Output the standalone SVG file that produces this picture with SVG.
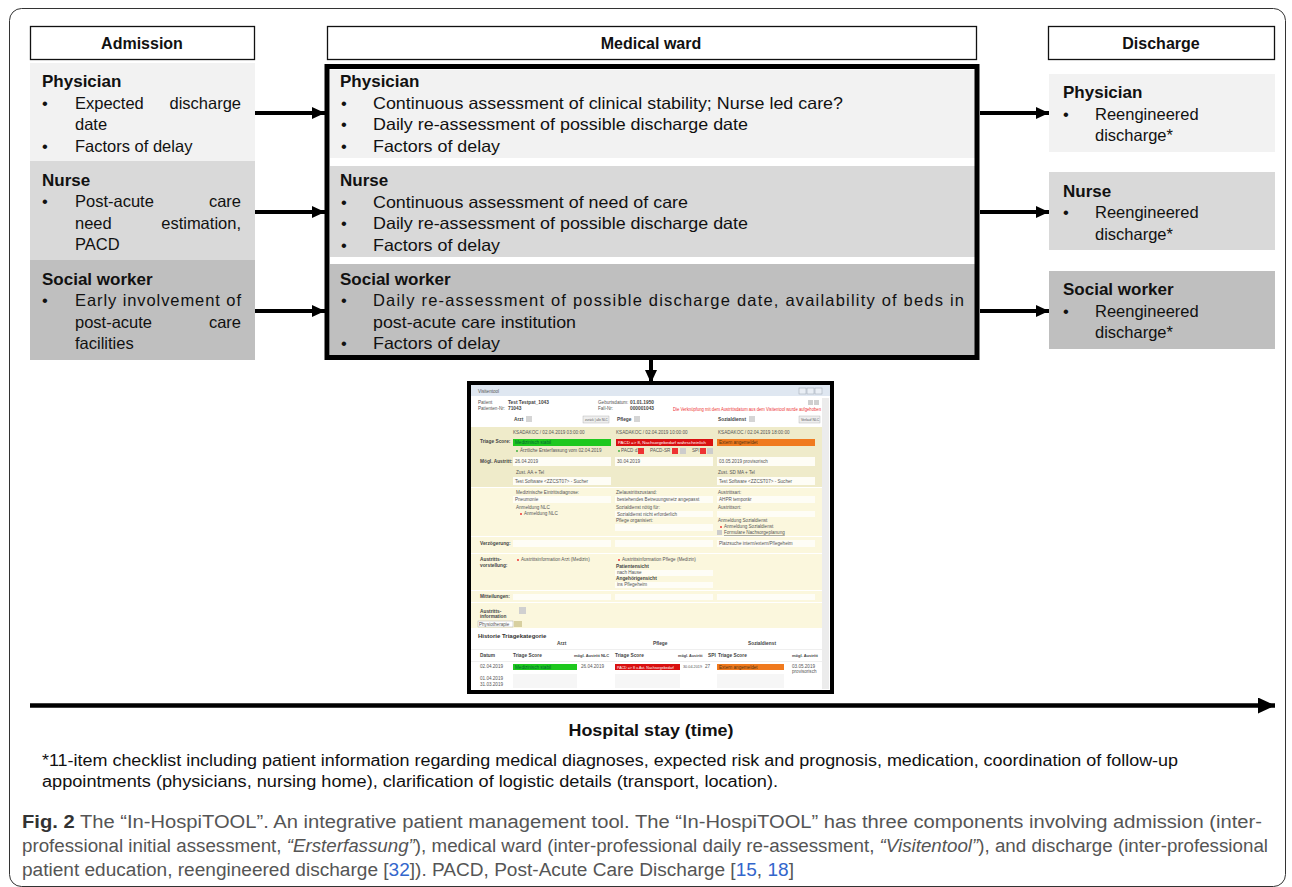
<svg xmlns="http://www.w3.org/2000/svg" width="1292" height="887" viewBox="0 0 1292 887">
<style>
.t{font-family:"Liberation Sans",Arial,sans-serif;font-size:16.5px;fill:#111}
.b{font-family:"Liberation Sans",Arial,sans-serif;font-size:17px;font-weight:bold;fill:#111}
.h{font-family:"Liberation Sans",Arial,sans-serif;font-size:16px;font-weight:bold;fill:#111}
.hdr{fill:#fff;stroke:#111;stroke-width:1.3}
.p1{fill:#f2f2f2}
.p2{fill:#d9d9d9}
.p3{fill:#bfbfbf}
.con{stroke:#000;stroke-width:4;fill:none}
.s{font-family:"Liberation Sans",Arial,sans-serif;font-size:4.6px;fill:#555}
.sb{font-family:"Liberation Sans",Arial,sans-serif;font-size:4.8px;font-weight:bold;fill:#444}
.sr{font-family:"Liberation Sans",Arial,sans-serif;font-size:4.6px;fill:#e33}
.sw{font-family:"Liberation Sans",Arial,sans-serif;font-size:4.4px;fill:#fff}
.in{fill:#fefdf6}
.cap{font-family:"Liberation Sans",Arial,sans-serif;font-size:18px;fill:#555}
.fn{font-family:"Liberation Sans",Arial,sans-serif;font-size:16px;fill:#111}
</style>
<defs>
<marker id="ah" markerUnits="userSpaceOnUse" markerWidth="13" markerHeight="12" refX="13" refY="6" orient="auto"><path d="M0,0 L13,6 L0,12 z" fill="#000"/></marker>
<marker id="ahb" markerUnits="userSpaceOnUse" markerWidth="17" markerHeight="16" refX="17" refY="8" orient="auto"><path d="M0,0 L17,8 L0,16 z" fill="#000"/></marker>
</defs>

<rect x="9.5" y="8.5" width="1276" height="878" rx="12" fill="none" stroke="#333" stroke-width="1"/>

<!-- Headers -->
<g id="hdr-admission"><rect class="hdr" x="30.5" y="26.5" width="224" height="33"/><text class="h" x="142" y="49" text-anchor="middle">Admission</text></g>
<g id="hdr-ward"><rect class="hdr" x="327.5" y="26.5" width="649" height="33"/><text class="h" x="651" y="49" text-anchor="middle">Medical ward</text></g>
<g id="hdr-discharge"><rect class="hdr" x="1048.5" y="26.5" width="226" height="33"/><text class="h" x="1161" y="49" text-anchor="middle">Discharge</text></g>

<!-- Admission -->
<g id="adm-physician">
<rect class="p1" x="30" y="63" width="225" height="98"/>
<text class="b" x="42" y="87">Physician</text>
<text class="t" x="42" y="109">•</text><text class="t" x="75" y="109">Expected</text><text class="t" x="241" y="109" text-anchor="end">discharge</text>
<text class="t" x="75" y="130">date</text>
<text class="t" x="42" y="152">•</text><text class="t" x="75" y="152">Factors of delay</text>
</g>
<g id="adm-nurse">
<rect class="p2" x="30" y="161" width="225" height="99"/>
<text class="b" x="42" y="186">Nurse</text>
<text class="t" x="42" y="207">•</text><text class="t" x="75" y="207">Post-acute</text><text class="t" x="241" y="207" text-anchor="end">care</text>
<text class="t" x="75" y="229">need</text><text class="t" x="241" y="229" text-anchor="end">estimation,</text>
<text class="t" x="75" y="250">PACD</text>
</g>
<g id="adm-social">
<rect class="p3" x="30" y="260" width="225" height="100"/>
<text class="b" x="42" y="285">Social worker</text>
<text class="t" x="42" y="306">•</text><text class="t" x="75" y="306" textLength="166" lengthAdjust="spacing">Early involvement of</text>
<text class="t" x="75" y="328">post-acute</text><text class="t" x="241" y="328" text-anchor="end">care</text>
<text class="t" x="75" y="349">facilities</text>
</g>

<!-- Medical ward -->
<g id="ward">
<rect class="p1" x="330" y="70" width="646" height="88"/>
<rect class="p2" x="330" y="166" width="646" height="91"/>
<rect class="p3" x="330" y="264" width="646" height="93"/>
<rect x="327" y="66.5" width="650" height="291" fill="none" stroke="#000" stroke-width="5"/>
<text class="b" x="340" y="87">Physician</text>
<text class="t" x="341" y="109">•</text><text class="t" x="373" y="109" textLength="470" lengthAdjust="spacingAndGlyphs">Continuous assessment of clinical stability; Nurse led care?</text>
<text class="t" x="341" y="130">•</text><text class="t" x="373" y="130" textLength="375" lengthAdjust="spacingAndGlyphs">Daily re-assessment of possible discharge date</text>
<text class="t" x="341" y="152">•</text><text class="t" x="373" y="152" textLength="127" lengthAdjust="spacingAndGlyphs">Factors of delay</text>
<text class="b" x="340" y="186">Nurse</text>
<text class="t" x="341" y="208">•</text><text class="t" x="373" y="208" textLength="315" lengthAdjust="spacingAndGlyphs">Continuous assessment of need of care</text>
<text class="t" x="341" y="229">•</text><text class="t" x="373" y="229" textLength="375" lengthAdjust="spacingAndGlyphs">Daily re-assessment of possible discharge date</text>
<text class="t" x="341" y="251">•</text><text class="t" x="373" y="251" textLength="127" lengthAdjust="spacingAndGlyphs">Factors of delay</text>
<text class="b" x="340" y="285">Social worker</text>
<text class="t" x="341" y="306">•</text><text class="t" x="373" y="306" textLength="591" lengthAdjust="spacing">Daily re-assessment of possible discharge date, availability of beds in</text>
<text class="t" x="373" y="328" textLength="203" lengthAdjust="spacingAndGlyphs">post-acute care institution</text>
<text class="t" x="341" y="349">•</text><text class="t" x="373" y="349" textLength="127" lengthAdjust="spacingAndGlyphs">Factors of delay</text>
</g>

<!-- Discharge -->
<g id="dis-physician">
<rect class="p1" x="1049" y="74" width="226" height="78"/>
<text class="b" x="1063" y="98">Physician</text>
<text class="t" x="1063" y="120">•</text><text class="t" x="1095" y="120">Reengineered</text>
<text class="t" x="1095" y="141">discharge*</text>
</g>
<g id="dis-nurse">
<rect class="p2" x="1049" y="172" width="226" height="78"/>
<text class="b" x="1063" y="197">Nurse</text>
<text class="t" x="1063" y="218">•</text><text class="t" x="1095" y="218">Reengineered</text>
<text class="t" x="1095" y="240">discharge*</text>
</g>
<g id="dis-social">
<rect class="p3" x="1049" y="271" width="226" height="78"/>
<text class="b" x="1063" y="295">Social worker</text>
<text class="t" x="1063" y="317">•</text><text class="t" x="1095" y="317">Reengineered</text>
<text class="t" x="1095" y="338">discharge*</text>
</g>

<!-- Screenshot -->
<g id="screenshot">
<rect x="471" y="385" width="359" height="305" fill="#fff"/>
<rect x="471" y="385" width="359" height="11" fill="#dfe7f1"/>
<text class="s" x="478" y="393">Visitentool</text>
<rect x="799" y="388" width="7" height="6" fill="#e9eef5" stroke="#9aa4b0" stroke-width="0.5"/>
<rect x="807" y="388" width="7" height="6" fill="#e9eef5" stroke="#9aa4b0" stroke-width="0.5"/>
<rect x="815" y="388" width="7" height="6" fill="#e9eef5" stroke="#9aa4b0" stroke-width="0.5"/>
<rect x="822" y="398" width="7" height="291" fill="#ececec"/>
<text class="s" x="478" y="404">Patient</text><text class="sb" x="508" y="404">Test Testpat_1043</text>
<text class="s" x="478" y="410">Patienten-Nr:</text><text class="sb" x="508" y="410">71043</text>
<text class="s" x="598" y="404">Geburtsdatum:</text><text class="sb" x="630" y="404">01.01.1950</text>
<text class="s" x="598" y="410">Fall-Nr:</text><text class="sb" x="630" y="410">000001043</text>
<text class="sr" x="673" y="411" textLength="148" lengthAdjust="spacingAndGlyphs">Die Verknüpfung mit dem Austrittsdatum aus dem Visitentool wurde aufgehoben</text>
<rect x="808" y="400" width="5" height="5" fill="#cfcfcf"/><rect x="814" y="400" width="5" height="5" fill="#cfcfcf"/>
<text class="sb" x="514" y="421">Arzt</text><rect x="526" y="416" width="6" height="6" fill="#d5d5d5"/>
<rect x="583" y="416" width="26" height="7" fill="#eee" stroke="#aaa" stroke-width="0.4"/><text class="s" x="585" y="421" style="font-size:3px">zurück | alle NLC</text>
<text class="sb" x="617" y="421">Pflege</text><rect x="634" y="416" width="6" height="6" fill="#d5d5d5"/>
<text class="sb" x="718" y="421">Sozialdienst</text><rect x="749" y="416" width="6" height="6" fill="#d5d5d5"/>
<rect x="799" y="416" width="21" height="7" fill="#eee" stroke="#aaa" stroke-width="0.4"/><text class="s" x="801" y="421" style="font-size:3.4px">Verlauf NLC</text>
<rect x="471" y="427" width="351" height="201" fill="#fbf7dd"/>
<rect x="471" y="427" width="351" height="60" fill="#efebca"/>
<rect x="471" y="553" width="351" height="1" fill="#fff"/>
<rect x="471" y="590" width="351" height="1" fill="#fff"/>
<rect x="471" y="602" width="351" height="1" fill="#fff"/>
<rect x="471" y="487" width="351" height="1" fill="#fff"/>
<rect x="471" y="536" width="351" height="1" fill="#fff"/>
<text class="s" x="513" y="434">KSADAKOC / 02.04.2019 03:00:00</text>
<text class="s" x="616" y="434">KSADAKOC / 02.04.2019 10:00:00</text>
<text class="s" x="718" y="434">KSADAKOC / 02.04.2019 18:00:00</text>
<text class="sb" x="480" y="443">Triage Score:</text>
<rect x="513" y="439" width="98" height="7" fill="#1ec81e"/><text class="s" x="515" y="444" style="fill:#063">Medizinisch stabil</text>
<rect x="616" y="439" width="97" height="7" fill="#d91010"/><text class="sw" x="618" y="444">PACD =&gt; 8, Nachsorgebedarf wahrscheinlich</text>
<rect x="717" y="439" width="98" height="7" fill="#f07a1e"/><text class="s" x="719" y="444" style="fill:#531">Extern angemeldet</text>
<circle cx="517" cy="451" r="0.9" fill="#3a3"/><text class="s" x="520" y="452">Ärztliche Ersterfassung vom 02.04.2019</text>
<circle cx="619" cy="451" r="0.9" fill="#3a3"/><text class="s" x="621" y="452">PACD d1</text><rect x="638" y="448" width="6" height="6" fill="#e33"/>
<text class="s" x="650" y="452">PACD-SR</text><rect x="672" y="448" width="6" height="6" fill="#e33"/><rect x="680" y="448" width="6" height="6" fill="#ccc"/>
<text class="s" x="692" y="452">SPI</text><rect x="700" y="448" width="6" height="6" fill="#e33"/><rect x="707" y="448" width="6" height="6" fill="#ccc"/>
<text class="sb" x="480" y="463">Mögl. Austritt:</text>
<rect class="in" x="513" y="457" width="98" height="9"/><text class="s" x="515" y="463">26.04.2019</text>
<rect class="in" x="615" y="457" width="98" height="9"/><text class="s" x="617" y="463">30.04.2019</text>
<rect class="in" x="717" y="457" width="98" height="9"/><text class="s" x="719" y="463">03.05.2019  provisorisch</text>
<text class="s" x="516" y="474">Zust. AA + Tel</text><text class="s" x="718" y="474">Zust. SD MA + Tel</text>
<rect class="in" x="513" y="477" width="98" height="8"/><text class="s" x="515" y="483">Test Software &lt;ZZCST07&gt; - Sucher</text>
<rect class="in" x="717" y="477" width="98" height="8"/><text class="s" x="719" y="483">Test Software &lt;ZZCST07&gt; - Sucher</text>
<text class="s" x="516" y="494">Medizinische Eintrittsdiagnose:</text>
<rect class="in" x="513" y="496" width="98" height="7"/><text class="s" x="515" y="501">Pneumonie</text>
<text class="s" x="616" y="494">Zielaustrittszustand:</text>
<rect class="in" x="615" y="496" width="98" height="7"/><text class="s" x="617" y="501">bestehendes Betreuungsnetz angepasst</text>
<text class="s" x="718" y="494">Austrittsart:</text>
<rect class="in" x="717" y="496" width="98" height="7"/><text class="s" x="719" y="501">AHPR temporär</text>
<text class="s" x="516" y="509">Anmeldung NLC</text>
<circle cx="521" cy="514" r="0.9" fill="#e22"/><text class="s" x="524" y="515">Anmeldung NLC</text>
<text class="s" x="616" y="509">Sozialdienst nötig für:</text>
<rect class="in" x="615" y="511" width="98" height="6"/><text class="s" x="617" y="516">Sozialdienst nicht erforderlich</text>
<text class="s" x="616" y="522">Pflege organisiert:</text>
<rect class="in" x="615" y="524" width="98" height="7"/>
<text class="s" x="718" y="509">Austrittsort:</text>
<rect class="in" x="717" y="511" width="98" height="6"/>
<text class="s" x="718" y="522">Anmeldung Sozialdienst</text>
<circle cx="721" cy="527" r="0.9" fill="#e22"/><text class="s" x="724" y="528">Anmeldung Sozialdienst</text>
<rect x="717" y="530" width="5" height="5" fill="#ccc"/><text class="s" x="724" y="534" style="text-decoration:underline">Formulare Nachsorgeplanung</text>
<rect class="in" x="717" y="540" width="98" height="7"/><text class="s" x="719" y="545">Platzsuche intern/extern/Pflegeheim</text>
<text class="sb" x="480" y="545">Verzögerung:</text>
<rect class="in" x="513" y="540" width="98" height="7"/><rect class="in" x="615" y="540" width="98" height="7"/>
<text class="sb" x="480" y="561">Austritts-</text><text class="sb" x="480" y="567">vorstellung:</text>
<circle cx="518" cy="560" r="0.9" fill="#e22"/><text class="s" x="521" y="561">Austrittsinformation Arzt (Medizin)</text>
<circle cx="619" cy="560" r="0.9" fill="#e22"/><text class="s" x="622" y="561">Austrittsinformation Pflege (Medizin)</text>
<text class="sb" x="616" y="568">Patientensicht</text>
<rect class="in" x="615" y="570" width="98" height="6"/><text class="s" x="617" y="574">nach Hause</text>
<text class="sb" x="616" y="580">Angehörigensicht</text>
<rect class="in" x="615" y="582" width="98" height="6"/><text class="s" x="617" y="586">ins Pflegeheim</text>
<text class="sb" x="480" y="598">Mitteilungen:</text>
<rect class="in" x="513" y="594" width="98" height="6"/><rect class="in" x="615" y="594" width="98" height="6"/><rect class="in" x="717" y="594" width="98" height="6"/>
<text class="sb" x="480" y="613">Austritts-</text><text class="sb" x="480" y="618">information</text>
<rect x="519" y="607" width="7" height="7" fill="#d0d0d0"/>
<rect x="478" y="621" width="35" height="6" fill="#fff" stroke="#999" stroke-width="0.4"/><text class="s" x="479" y="626">Physiotherapie</text>
<rect x="514" y="621" width="8" height="6" fill="#d8d0a0"/>
<text x="478" y="638" style="font-family:'Liberation Sans',Arial,sans-serif;font-size:6px;font-weight:bold;fill:#333">Historie Triagekategorie</text>
<text class="sb" x="557" y="645">Arzt</text><text class="sb" x="653" y="645">Pflege</text><text class="sb" x="748" y="645">Sozialdienst</text>
<rect x="471" y="649" width="351" height="0.6" fill="#e4e4e4"/>
<text class="sb" x="480" y="657">Datum</text><text class="sb" x="513" y="657">Triage Score</text><text class="sb" x="574" y="657" style="font-size:4px">mögl. Austritt NLC</text>
<text class="sb" x="615" y="657">Triage Score</text><text class="sb" x="678" y="657" style="font-size:3.8px">mögl. Austritt</text><text class="sb" x="708" y="657">SPI</text>
<text class="sb" x="718" y="657">Triage Score</text><text class="sb" x="792" y="657" style="font-size:4px">mögl. Austritt</text>
<rect x="471" y="661" width="351" height="0.6" fill="#e4e4e4"/>
<text class="s" x="480" y="668">02.04.2019</text>
<rect x="513" y="664" width="64" height="6" fill="#1ec81e"/><text class="s" x="515" y="669" style="fill:#063">Medizinisch stabil</text>
<text class="s" x="581" y="668">26.04.2019</text>
<rect x="615" y="664" width="65" height="6" fill="#d91010"/><text class="sw" x="617" y="669" style="font-size:3.6px">PACD =&gt; 8 u.Aut. Nachsorgebedarf</text>
<text class="s" x="683" y="668" style="font-size:3.8px">30.04.2019</text><text class="s" x="705" y="668">27</text>
<rect x="717" y="664" width="67" height="6" fill="#f07a1e"/><text class="s" x="719" y="669" style="fill:#531">Extern angemeldet</text>
<text class="s" x="792" y="668">03.05.2019</text><text class="s" x="792" y="673">provisorisch</text>
<text class="s" x="480" y="680">01.04.2019</text><text class="s" x="480" y="686">31.03.2019</text>
<rect x="513" y="674" width="64" height="14" fill="#f6f6f6"/><rect x="615" y="674" width="65" height="14" fill="#f6f6f6"/><rect x="717" y="674" width="67" height="14" fill="#f6f6f6"/>
<rect x="469" y="383" width="363" height="309" fill="none" stroke="#000" stroke-width="4"/>
</g>

<!-- Connectors -->
<g id="connectors">
<line class="con" x1="255" y1="113" x2="325" y2="113" marker-end="url(#ah)"/>
<line class="con" x1="255" y1="212" x2="325" y2="212" marker-end="url(#ah)"/>
<line class="con" x1="255" y1="311" x2="325" y2="311" marker-end="url(#ah)"/>
<line class="con" x1="980" y1="113" x2="1049" y2="113" marker-end="url(#ah)"/>
<line class="con" x1="980" y1="212" x2="1049" y2="212" marker-end="url(#ah)"/>
<line class="con" x1="980" y1="311" x2="1049" y2="311" marker-end="url(#ah)"/>
<line class="con" x1="651" y1="360" x2="651" y2="383" marker-end="url(#ah)"/>
<line x1="30" y1="705.5" x2="1275" y2="705.5" stroke="#000" stroke-width="4.5" marker-end="url(#ahb)"/>
</g>

<text class="h" x="651" y="736" text-anchor="middle" textLength="165" lengthAdjust="spacingAndGlyphs">Hospital stay (time)</text>
<text class="fn" x="42" y="766" textLength="1136" lengthAdjust="spacingAndGlyphs">*11-item checklist including patient information regarding medical diagnoses, expected risk and prognosis, medication, coordination of follow-up</text>
<text class="fn" x="42" y="787" textLength="736" lengthAdjust="spacingAndGlyphs">appointments (physicians, nursing home), clarification of logistic details (transport, location).</text>

<g id="caption">
<text class="cap" x="22" y="828" textLength="1240" lengthAdjust="spacingAndGlyphs"><tspan style="font-weight:bold;fill:#333">Fig. 2</tspan> The “In-HospiTOOL”. An integrative patient management tool. The “In-HospiTOOL” has three components involving admission (inter-</text>
<text class="cap" x="22" y="852" textLength="1246" lengthAdjust="spacingAndGlyphs">professional initial assessment, <tspan font-style="italic">“Ersterfassung”</tspan>), medical ward (inter-professional daily re-assessment, <tspan font-style="italic">“Visitentool”</tspan>), and discharge (inter-professional</text>
<text class="cap" x="22" y="876" textLength="772" lengthAdjust="spacingAndGlyphs">patient education, reengineered discharge [<tspan fill="#3366cc">32</tspan>]). PACD, Post-Acute Care Discharge [<tspan fill="#3366cc">15</tspan>, <tspan fill="#3366cc">18</tspan>]</text>
</g>
</svg>
